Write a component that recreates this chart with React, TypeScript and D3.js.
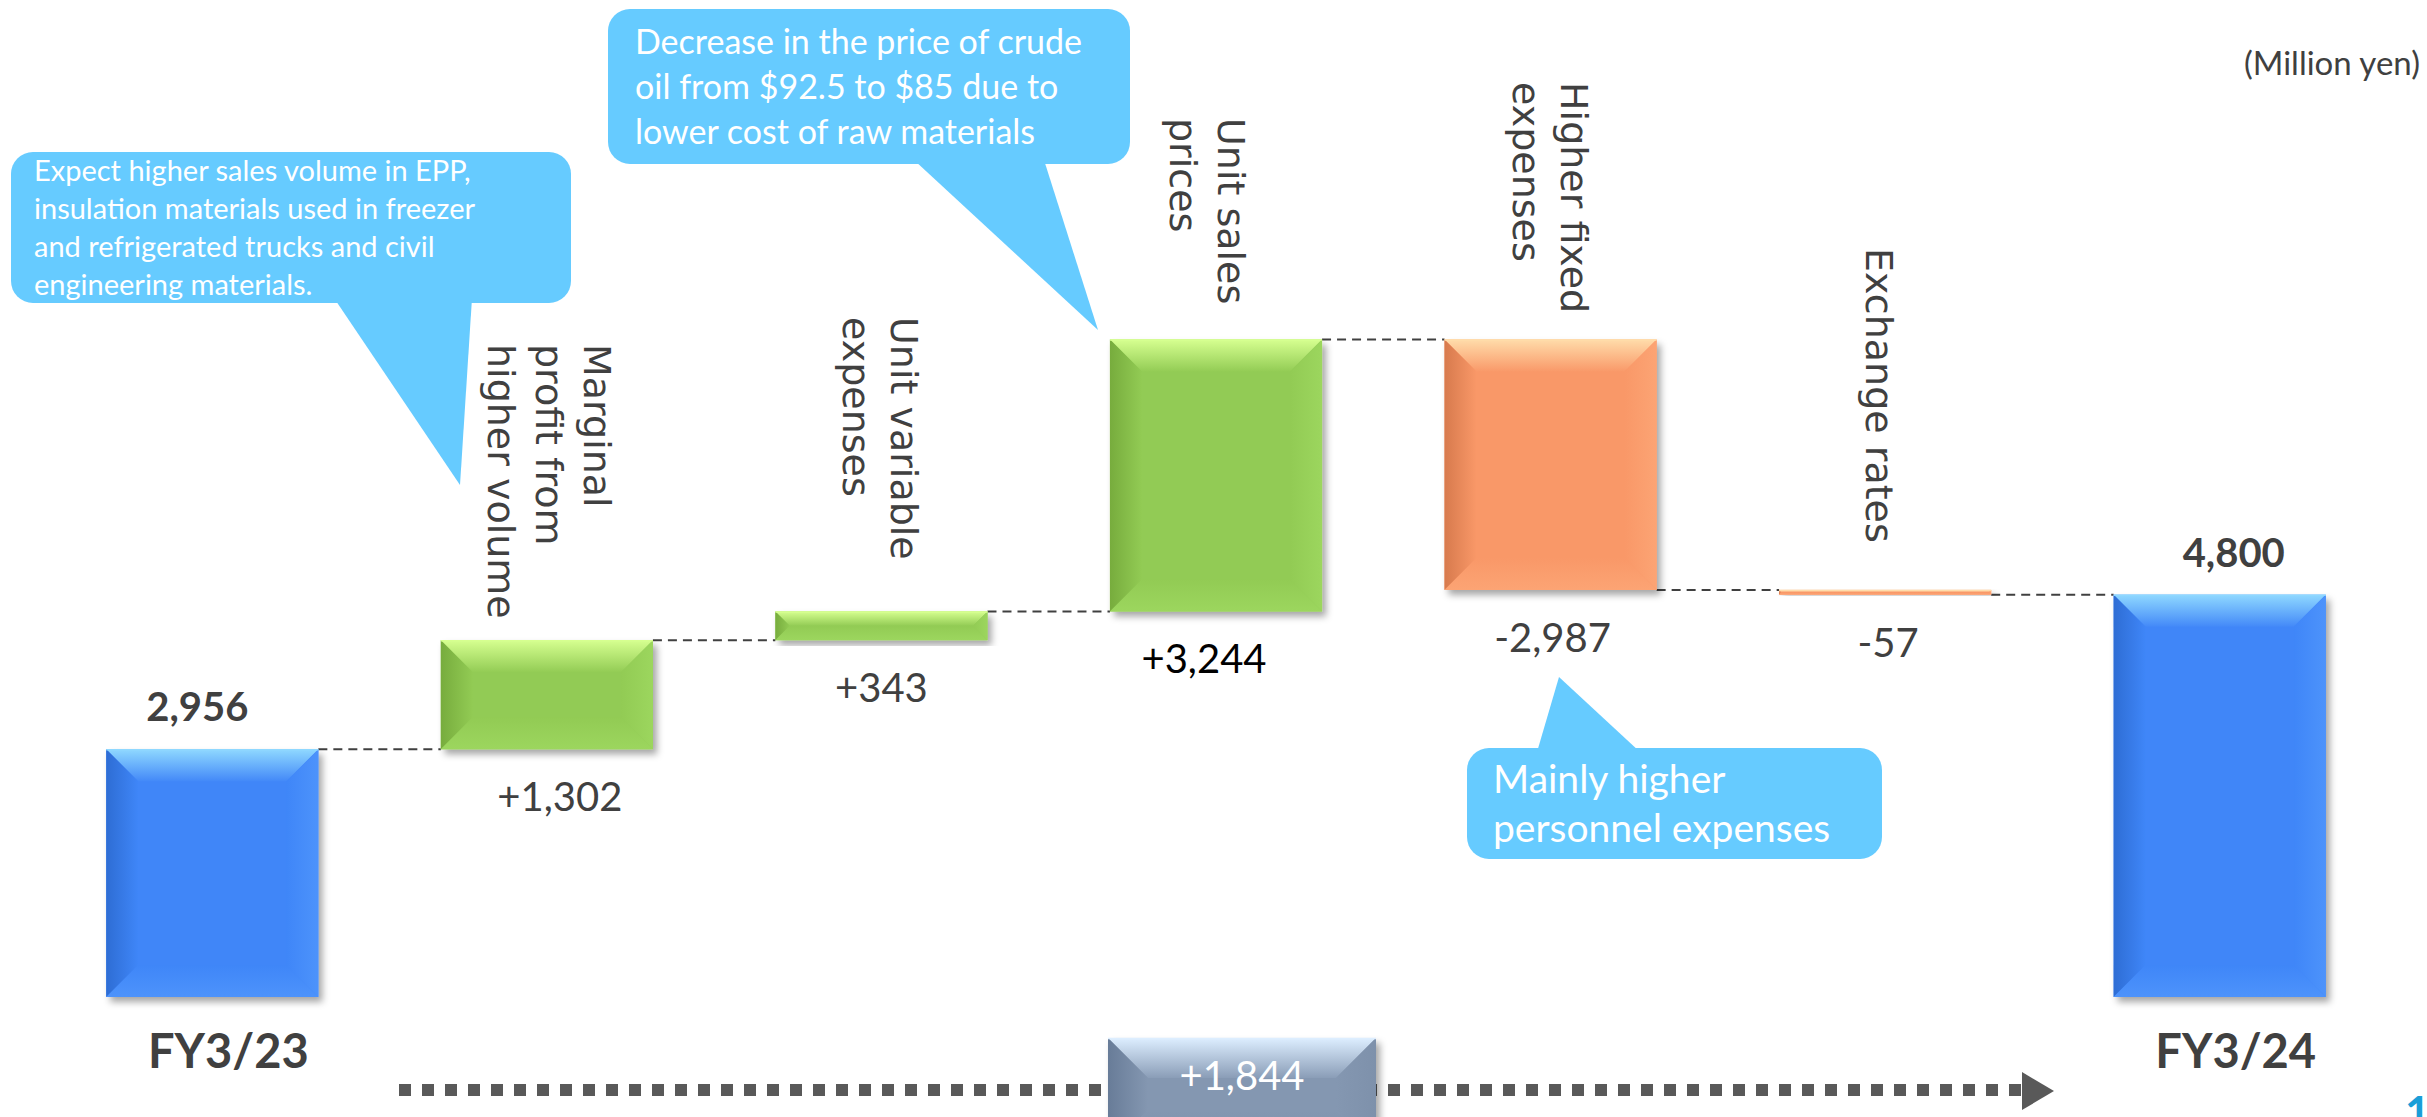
import React from "react";
import * as d3 from "d3";

// ---------- data ----------
const categories = [
  "FY3/23",
  "Marginal profit from higher volume",
  "Unit variable expenses",
  "Unit sales prices",
  "Higher fixed expenses",
  "Exchange rates",
  "FY3/24",
];
const categoryLines = [
  [],
  ["Marginal", "profit from", "higher volume"],
  ["Unit variable", "expenses"],
  ["Unit sales", "prices"],
  ["Higher fixed", "expenses"],
  ["Exchange rates"],
  [],
];
const totalLabels = ["FY3/23", "", "", "", "", "", "FY3/24"];
const values = [2956, 1302, 343, 3244, -2987, -57, 4800];
const isTotal = [true, false, false, false, false, false, true];
const valueLabels = ["2,956", "+1,302", "+343", "+3,244", "-2,987", "-57", "4,800"];
const unitLabel = "(Million yen)";
const note1 = [
  "Expect higher sales volume in EPP,",
  "insulation materials used in freezer",
  "and refrigerated trucks and civil",
  "engineering materials.",
];
const note2 = [
  "Decrease in the price of crude",
  "oil from $92.5 to $85 due to",
  "lower cost of raw materials",
];
const note3 = ["Mainly higher", "personnel expenses"];

// ---------- layout ----------
const W = 2427;
const H = 1117;
const labelTopY = [0, 344, 317, 118, 82, 248, 0];
const labelDx = [0, 3, 0, -8, 0, -5, 0];
const valueDx = [-15, 13, 0, -12, 2, 3, 14];
const TEXT = "#404040";
const SANS = "Lato, 'Open Sans', sans-serif";

const palettes: Record<string, any> = {
  blue: { base: "#3F86F8", topA: "#8FD8FF", topB: "#4389F8", left: "#2E6DD4", edge: "#4D93FB" },
  green: { base: "#92CB54", topA: "#D6FF90", topB: "#93CC55", left: "#77AC3D", edge: "#9CD65E" },
  orange: { base: "#F99868", topA: "#FFDCAA", topB: "#F99969", left: "#D77A4D", edge: "#FCA474" },
  slate: { base: "#8497B1", topA: "#DDEEFF", topB: "#8A9DB7", left: "#687C98", edge: "#7E91AB" },
};

function Bevel({ x0, x1, y0, y1, kind, maxB = 32 }: any) {
  const p = palettes[kind];
  const w = x1 - x0;
  const h = y1 - y0;
  const b = Math.min(maxB, h / 2, w / 2);
  const pts = (a: number[][]) => a.map((q) => q.join(",")).join(" ");
  return (
    <g>
      <rect x={x0} y={y0} width={w} height={h} fill={p.base} filter="url(#shadow)" />
      <polygon points={pts([[x0, y0], [x1, y0], [x1 - b, y0 + b], [x0 + b, y0 + b]])} fill={`url(#top-${kind})`} />
      <polygon points={pts([[x0, y0], [x0 + b, y0 + b], [x0 + b, y1 - b], [x0, y1]])} fill={`url(#left-${kind})`} />
      <polygon points={pts([[x1, y0], [x1, y1], [x1 - b, y1 - b], [x1 - b, y0 + b]])} fill={`url(#right-${kind})`} />
      <polygon points={pts([[x0, y1], [x0 + b, y1 - b], [x1 - b, y1 - b], [x1, y1]])} fill={`url(#bottom-${kind})`} />
      <line x1={x0} x2={x1} y1={y0 + 0.5} y2={y0 + 0.5} stroke={p.topA} strokeWidth={1.5} />
    </g>
  );
}

function Callout({ box, tail, lines, x, baselines, size }: any) {
  const [bx0, by0, bx1, by1] = box;
  return (
    <g>
      <rect x={bx0} y={by0} width={bx1 - bx0} height={by1 - by0} rx={22} ry={22} fill="#66CBFF" />
      <polygon points={tail.map((q: number[]) => q.join(",")).join(" ")} fill="#66CBFF" />
      <text fill="#FFFFFF" fontFamily={SANS} fontSize={size}>
        {lines.map((l: string, i: number) => (
          <tspan key={i} x={x} y={baselines[i]}>
            {l}
          </tspan>
        ))}
      </text>
    </g>
  );
}

export default function App() {
  const x = d3
    .scaleBand<string>()
    .domain(categories)
    .range([45, 2387])
    .paddingInner(0.366)
    .paddingOuter(0.183);
  const y = d3.scaleLinear().domain([0, 8000]).range([997, 326.6]);

  let run = 0;
  const bars = values.map((v, i) => {
    let lo: number, hi: number, end: number;
    if (isTotal[i]) {
      lo = 0;
      hi = v;
      end = v;
    } else {
      const start = run;
      end = run + v;
      lo = Math.min(start, end);
      hi = Math.max(start, end);
    }
    run = end;
    const x0 = x(categories[i])!;
    const x1 = x0 + x.bandwidth();
    const kind = isTotal[i] ? "blue" : v >= 0 ? "green" : "orange";
    return { i, x0, x1, cx: (x0 + x1) / 2, yTop: y(hi), yBot: y(lo), end, kind };
  });

  const diff = values[values.length - 1] - values[0];
  const diffLabel = (diff >= 0 ? "+" : "") + d3.format(",")(diff);
  const mid = x(categories[3])! + x.bandwidth() / 2 + 26;

  const grads = Object.keys(palettes).map((k) => {
    const p = palettes[k];
    return (
      <React.Fragment key={k}>
        <linearGradient id={`top-${k}`} x1="0" y1="0" x2="0" y2="1">
          <stop offset="0" stopColor={p.topA} />
          <stop offset="1" stopColor={p.topB} />
        </linearGradient>
        <linearGradient id={`left-${k}`} x1="0" y1="0" x2="1" y2="0">
          <stop offset="0" stopColor={p.left} />
          <stop offset="1" stopColor={p.base} />
        </linearGradient>
        <linearGradient id={`right-${k}`} x1="0" y1="0" x2="1" y2="0">
          <stop offset="0" stopColor={p.base} />
          <stop offset="1" stopColor={p.edge} />
        </linearGradient>
        <linearGradient id={`bottom-${k}`} x1="0" y1="0" x2="0" y2="1">
          <stop offset="0" stopColor={p.base} />
          <stop offset="1" stopColor={p.edge} />
        </linearGradient>
      </React.Fragment>
    );
  });

  return (
    <svg
      width={W}
      height={H}
      viewBox={`0 0 ${W} ${H}`}
      style={{ position: "absolute", left: 0, top: 0, display: "block", background: "#fff" }}
    >
      <defs>
        {grads}
        <filter id="shadow" x="-10%" y="-10%" width="130%" height="130%">
          <feDropShadow dx="4" dy="5" stdDeviation="3.5" floodColor="#000" floodOpacity="0.35" />
        </filter>
      </defs>
      <rect width={W} height={H} fill="#fff" />

      {/* connectors */}
      {bars.slice(0, -1).map((b, i) => (
        <line
          key={`c${i}`}
          x1={b.x1}
          x2={bars[i + 1].x0}
          y1={y(b.end)}
          y2={y(b.end)}
          stroke="#404040"
          strokeWidth={2}
          strokeDasharray="9 6"
        />
      ))}

      {/* bars */}
      {bars.map((b) => (
        <Bevel key={`b${b.i}`} x0={b.x0} x1={b.x1} y0={b.yTop} y1={b.yBot} kind={b.kind} />
      ))}

      {/* value labels */}
      {bars.map((b) =>
        isTotal[b.i] ? (
          <text
            key={`v${b.i}`}
            x={b.cx + valueDx[b.i]}
            y={b.yTop - 28}
            textAnchor="middle"
            fontFamily={SANS}
            fontWeight={700}
            fontSize={40}
            fill={TEXT}
          >
            {valueLabels[b.i]}
          </text>
        ) : (
          <text
            key={`v${b.i}`}
            x={b.cx + valueDx[b.i]}
            y={b.yBot + 62}
            textAnchor="middle"
            fontFamily={SANS}
            fontSize={40}
            fill={b.i === 3 ? "#000" : TEXT}
          >
            {valueLabels[b.i]}
          </text>
        )
      )}

      {/* total category labels */}
      {bars.map((b) =>
        totalLabels[b.i] ? (
          <text
            key={`t${b.i}`}
            x={b.cx + 16}
            y={1068}
            textAnchor="middle"
            fontFamily={SANS}
            fontWeight={700}
            fontSize={47}
            fill={TEXT}
          >
            {totalLabels[b.i]}
          </text>
        ) : null
      )}

      {/* rotated category labels */}
      {bars.map((b) => {
        const lines = categoryLines[b.i];
        const n = lines.length;
        return lines.map((l, j) => {
          const bx = b.cx - 14 + ((n - 1) / 2 - j) * 48 + labelDx[b.i];
          return (
            <text
              key={`r${b.i}-${j}`}
              transform={`translate(${bx},${labelTopY[b.i]}) rotate(90)`}
              fontFamily="'DejaVu Sans', sans-serif"
              fontSize={38}
              fill={TEXT}
            >
              {l}
            </text>
          );
        });
      })}

      {/* callouts */}
      <Callout
        box={[11, 152, 571, 303]}
        tail={[[334, 298], [472, 298], [460, 485]]}
        lines={note1}
        x={34}
        baselines={[181, 219, 257, 295]}
        size={29}
      />
      <Callout
        box={[608, 9, 1130, 164]}
        tail={[[914, 160], [1044, 160], [1098, 330]]}
        lines={note2}
        x={635}
        baselines={[54, 99, 144]}
        size={34}
      />
      <Callout
        box={[1467, 748, 1882, 859]}
        tail={[[1537, 752], [1640, 752], [1559, 677]]}
        lines={note3}
        x={1493}
        baselines={[793, 842]}
        size={39}
      />

      {/* unit */}
      <text x={2420} y={75} textAnchor="end" fontFamily={SANS} fontSize={33} fill={TEXT}>
        {unitLabel}
      </text>

      {/* bottom arrow */}
      <line x1={399} x2={2024} y1={1090} y2={1090} stroke="#595959" strokeWidth={12} strokeDasharray="12 11" />
      <polygon points="2022,1072 2054,1091 2022,1110" fill="#595959" />
      <Bevel x0={mid - 134} x1={mid + 134} y0={1038} y1={1150} kind="slate" maxB={40} />
      <text x={mid} y={1090} textAnchor="middle" fontFamily={SANS} fontSize={40} fill="#fff">
        {diffLabel}
      </text>

      {/* page number */}
      <text x={2405} y={1128} fontFamily={SANS} fontWeight={700} fontSize={44} fill="#1A9ED8">
        1
      </text>
    </svg>
  );
}
